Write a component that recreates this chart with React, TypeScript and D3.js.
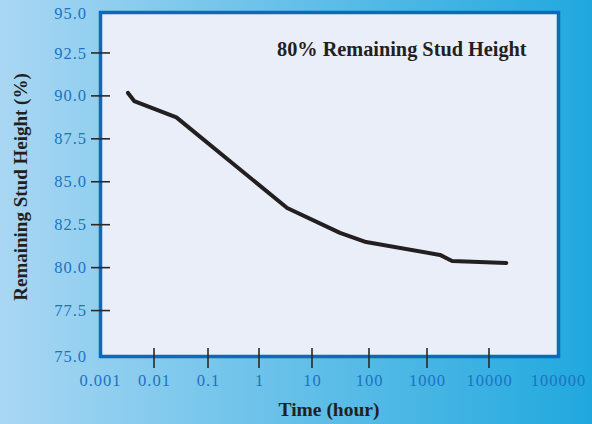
import React from "react";
import * as d3 from "d3";

const timeHours = [0.0033, 0.0043, 0.026, 3.4, 31, 89, 1620, 2540, 17800];
const remainingHeight = [90.17, 89.7, 88.75, 83.47, 82.02, 81.49, 80.74, 80.39, 80.27];
const xTickValues = [0.001, 0.01, 0.1, 1, 10, 100, 1000, 10000, 100000];
const xTickLabels = ["0.001", "0.01", "0.1", "1", "10", "100", "1000", "10000", "100000"];
const yTickValues = [75, 77.5, 80, 82.5, 85, 87.5, 90, 92.5, 95];
const annotation = "80% Remaining Stud Height";
const xTitle = "Time (hour)";
const yTitle = "Remaining Stud Height (%)";

const W = 592;
const H = 424;
const plot = { left: 100.5, top: 12.5, right: 558.5, bottom: 356.5 };
const labelColor = "#1b73c2";
const titleColor = "#231f20";
const font = "'Liberation Serif', serif";

export default function App() {
  const x = d3
    .scaleLog()
    .domain(xTickValues)
    .range([100, 154, 208, 259, 312, 369, 427, 489, 558]);
  const y = d3.scaleLinear().domain([75, 95]).range([353.5, 10]);

  const data = timeHours.map((t, i) => [t, remainingHeight[i]] as [number, number]);
  const line = d3
    .line<[number, number]>()
    .x((d) => x(d[0]))
    .y((d) => y(d[1]));

  const ls = 1;

  return (
    <svg
      width={W}
      height={H}
      style={{ position: "absolute", left: 0, top: 0, display: "block" }}
    >
      <defs>
        <linearGradient id="bg" x1="0" y1="0" x2="1" y2="0">
          <stop offset="0" stopColor="#a9d7f3" />
          <stop offset="1" stopColor="#20a8de" />
        </linearGradient>
      </defs>
      <rect x={0} y={0} width={W} height={H} fill="url(#bg)" />
      <rect
        x={plot.left}
        y={plot.top}
        width={plot.right - plot.left}
        height={plot.bottom - plot.top}
        fill="#eaeef8"
        stroke="#0b6abb"
        strokeWidth={3.5}
      />
      {yTickValues.map((v, i) => (
        <g key={"y" + i}>
          {i > 0 && i < yTickValues.length - 1 && (
            <line x1={91} x2={110} y1={y(v)} y2={y(v)} stroke="#2a2a2a" strokeWidth={1.6} />
          )}
          <text
            x={86 + ls}
            y={i === 0 || i === yTickValues.length - 1 ? y(v) + 3 : y(v)}
            dy="0.34em"
            textAnchor="end"
            fill={labelColor}
            fontFamily={font}
            fontSize={16.5}
            letterSpacing={ls}
          >
            {v.toFixed(1)}
          </text>
        </g>
      ))}
      {xTickValues.map((v, i) => (
        <g key={"x" + i}>
          {i > 0 && i < xTickValues.length - 1 && (
            <line x1={x(v)} x2={x(v)} y1={348} y2={368} stroke="#2a2a2a" strokeWidth={1.6} />
          )}
          <text
            x={x(v) + ls / 2}
            y={385.5}
            textAnchor="middle"
            fill={labelColor}
            fontFamily={font}
            fontSize={16.5}
            letterSpacing={ls}
          >
            {xTickLabels[i]}
          </text>
        </g>
      ))}
      <path
        d={line(data) || ""}
        fill="none"
        stroke="#231f20"
        strokeWidth={4}
        strokeLinejoin="round"
        strokeLinecap="round"
      />
      <text
        x={277}
        y={56}
        fill={titleColor}
        fontFamily={font}
        fontWeight="bold"
        fontSize={20.3}
      >
        {annotation}
      </text>
      <text
        x={329}
        y={416}
        textAnchor="middle"
        fill={titleColor}
        fontFamily={font}
        fontWeight="bold"
        fontSize={19.5}
      >
        {xTitle}
      </text>
      <text
        transform="translate(27,187) rotate(-90)"
        textAnchor="middle"
        fill={titleColor}
        fontFamily={font}
        fontWeight="bold"
        fontSize={19}
      >
        {yTitle}
      </text>
    </svg>
  );
}
